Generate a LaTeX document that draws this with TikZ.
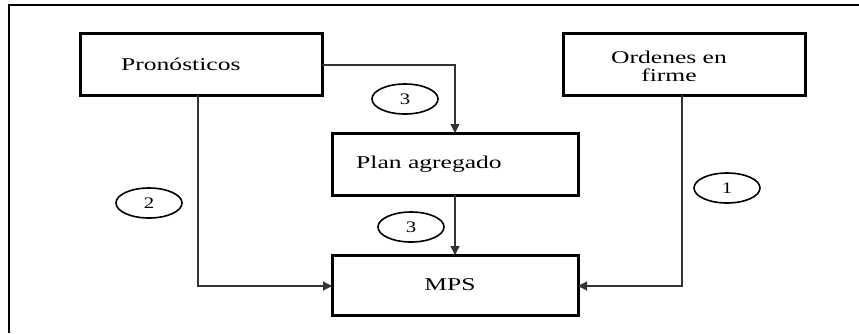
\documentclass[tikz,border=0pt]{standalone}
\usepackage{fontspec}
\setmainfont{Liberation Serif}
\usetikzlibrary{arrows.meta,shapes.geometric}
\begin{document}
\begin{tikzpicture}[x=1pt,y=-1pt,
  box/.style={draw=black,line width=3pt,inner sep=0pt},
  lbl/.style={inner sep=0pt,font=\fontsize{18}{20}\selectfont},
  num/.style={draw=black,line width=1.6pt,ellipse,minimum width=66pt,minimum height=30pt,inner sep=0pt,font=\fontsize{16}{18}\selectfont},
  conn/.style={line width=1.3pt,draw=black!80},
  arr/.style={conn,-{Triangle[length=9pt,width=9pt]}}]
\useasboundingbox (0,0) rectangle (859,333);
\draw[line width=2pt] (9,333) -- (9,5) -- (859,5);
% boxes
\draw[box] (80,33) rectangle (322,95);
\node[lbl,anchor=west] (tpron) at (121,64) {\scalebox{1.42}[1]{Pronósticos}};
\draw[box] (563,33) rectangle (805,95);
\node[lbl,align=center] (tord) at (669,66) {\scalebox{1.42}[1]{Ordenes en}\\[-2pt]\scalebox{1.42}[1]{firme}};
\draw[box] (332,133) rectangle (578,195);
\node[lbl,anchor=west] (tplan) at (356,164) {\scalebox{1.42}[1]{Plan agregado}};
\draw[box] (332,255) rectangle (578,315);
\node[lbl] (tmps) at (450,285) {\scalebox{1.42}[1]{MPS}};
% named anchor points
\coordinate (pronR) at (322,65);
\coordinate (pronB) at (198,95);
\coordinate (ordB) at (682,95);
\coordinate (planT) at (455,133);
\coordinate (planB) at (455,195);
\coordinate (mpsT) at (455,255);
\coordinate (mpsL) at (332,286);
\coordinate (mpsR) at (578,286);
% connectors
\draw[arr] (pronR) -| (planT);
\draw[arr] (planB) -- (mpsT);
\draw[arr] (pronB) |- (mpsL);
\draw[arr] (ordB) |- (mpsR);
% numbered ellipses
\node[num] (n3a) at (405,99) {\scalebox{1.3}[1]{3}};
\node[num] (n2) at (149,203) {\scalebox{1.3}[1]{2}};
\node[num] (n3b) at (411,227) {\scalebox{1.3}[1]{3}};
\node[num] (n1) at (727,188) {\scalebox{1.3}[1]{1}};
\end{tikzpicture}
\end{document}
